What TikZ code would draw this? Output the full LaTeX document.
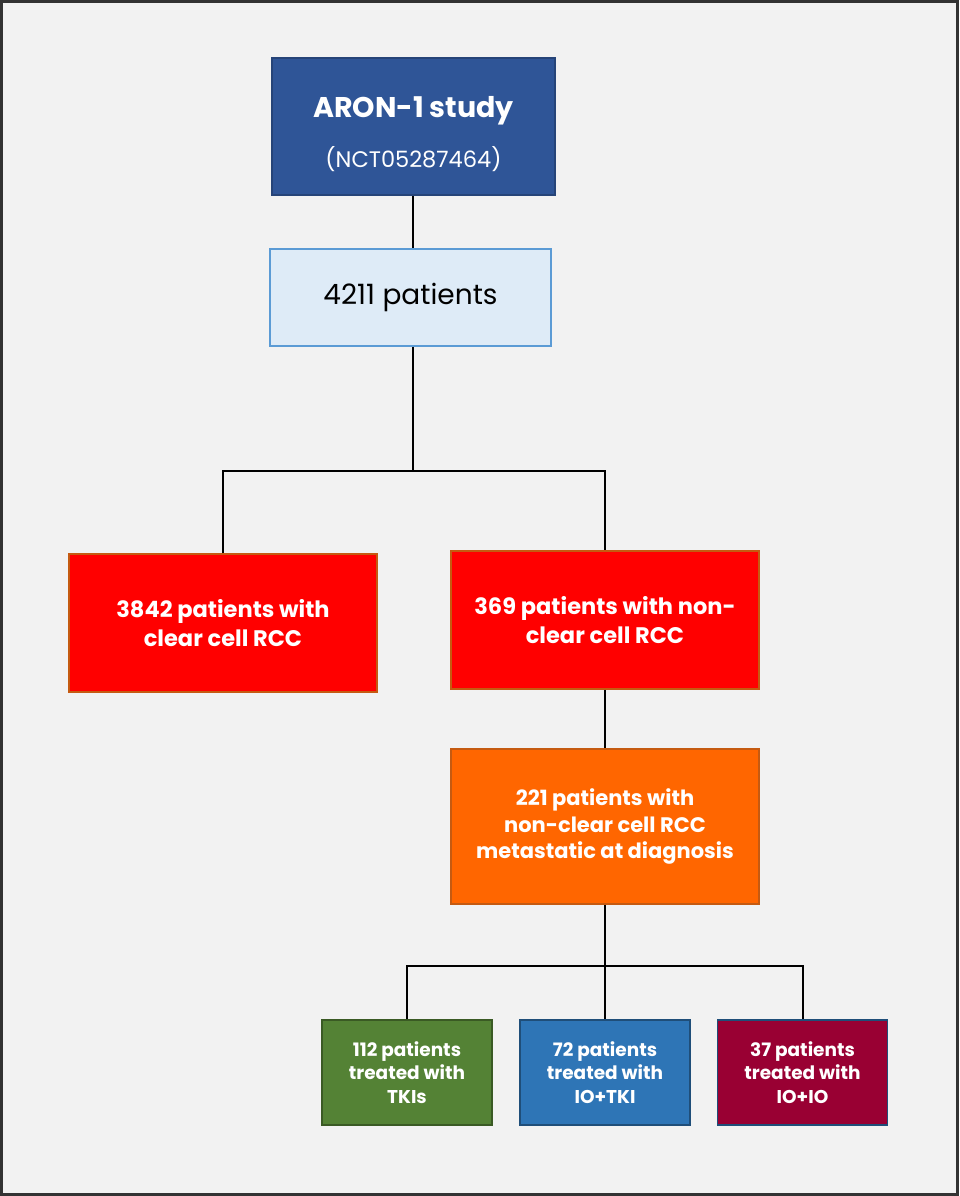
\documentclass[tikz,border=0pt]{standalone}
\usepackage{fontspec}
\setmainfont{Poppins}
\usepackage{tikz}
\usetikzlibrary{calc}
\definecolor{aronblue}{HTML}{2F5597}
\definecolor{aronedge}{HTML}{264478}
\definecolor{paleblue}{HTML}{DEEBF7}
\definecolor{paleedge}{HTML}{5B9BD5}
\definecolor{rccred}{HTML}{FF0000}
\definecolor{rccedge}{HTML}{C55A11}
\definecolor{metaorange}{HTML}{FF6600}
\definecolor{tkigreen}{HTML}{548235}
\definecolor{tkiedge}{HTML}{3A5A24}
\definecolor{iotkiblue}{HTML}{2E75B6}
\definecolor{iotkiedge}{HTML}{1F4E79}
\definecolor{ioiored}{HTML}{990033}
\definecolor{framebg}{HTML}{F2F2F2}

\begin{document}
\begin{tikzpicture}[x=1pt, y=-1pt,
		flowbox/.style={draw, line width=1.5pt, text=white, align=center, inner sep=0pt},
		bigbox/.style={flowbox, minimum width=308pt, font=\fontsize{22.5}{29}\selectfont\bfseries},
		smallbox/.style={flowbox, minimum width=170pt, minimum height=105pt, font=\fontsize{18.5}{23.5}\selectfont\bfseries},
		link/.style={line width=2pt, black}]
			%%%%% START %%%%%
			
			\useasboundingbox (0, 0) rectangle (959, 1196);
			\draw[line width=3pt, color=black!80, fill=framebg] (1.5, 1.5) rectangle (957.5, 1194.5);
			
			\node[flowbox, fill=aronblue, draw=aronedge, minimum width=283pt, minimum height=137pt] (aron) at (413.5, 126.5) {};
			\node[text=white, font=\fontsize{28.5}{30}\selectfont\bfseries] at (413.5, 111) {ARON-1 study};
			\node[text=white, font=\fontsize{22.5}{24}\selectfont] at (413.5, 159) {(NCT05287464)};
			
			\node[flowbox, fill=paleblue, draw=paleedge, text=black, minimum width=281pt, minimum height=97pt, font=\fontsize{28}{30}\selectfont] (total) at (410.5, 297.5) {4211 patients};
			
			\node[bigbox, fill=rccred, draw=rccedge, minimum height=138pt] (ccrcc) at (223, 623) {3842 patients with\\clear cell RCC};
			\node[bigbox, fill=rccred, draw=rccedge, minimum height=138pt] (nccrcc) at (605, 620) {369 patients with non-\\clear cell RCC};
			
			\node[bigbox, fill=metaorange, draw=rccedge, minimum height=155pt, font=\fontsize{21}{26.5}\selectfont\bfseries] (meta) at (605, 826.5) {221 patients with\\non-clear cell RCC\\metastatic at diagnosis};
			
			\node[smallbox, fill=tkigreen, draw=tkiedge] (tki) at (407, 1072.5) {112 patients\\treated with\\TKIs};
			\node[smallbox, fill=iotkiblue, draw=iotkiedge] (iotki) at (605, 1072.5) {72 patients\\treated with\\IO+TKI};
			\node[smallbox, fill=ioiored, draw=iotkiedge] (ioio) at (802.5, 1072.5) {37 patients\\treated with\\IO+IO};
			
			\coordinate (split1) at (413, 471);
			\coordinate (split2) at (605, 966);
			
			\draw[link] (aron.south -| split1) -- (total.north -| split1);
			\draw[link] (total.south -| split1) -- (split1);
			\draw[link] (ccrcc.north) -- (ccrcc.north |- split1) -- (nccrcc.north |- split1) -- (nccrcc.north);
			\draw[link] (nccrcc.south) -- (meta.north);
			\draw[link] (meta.south) -- (split2);
			\draw[link] (tki.north) -- (tki.north |- split2) -- (ioio.north |- split2) -- (ioio.north);
			\draw[link] (split2) -- (iotki.north);
			
			%%%%% END %%%%%
		\end{tikzpicture}
\end{document}
